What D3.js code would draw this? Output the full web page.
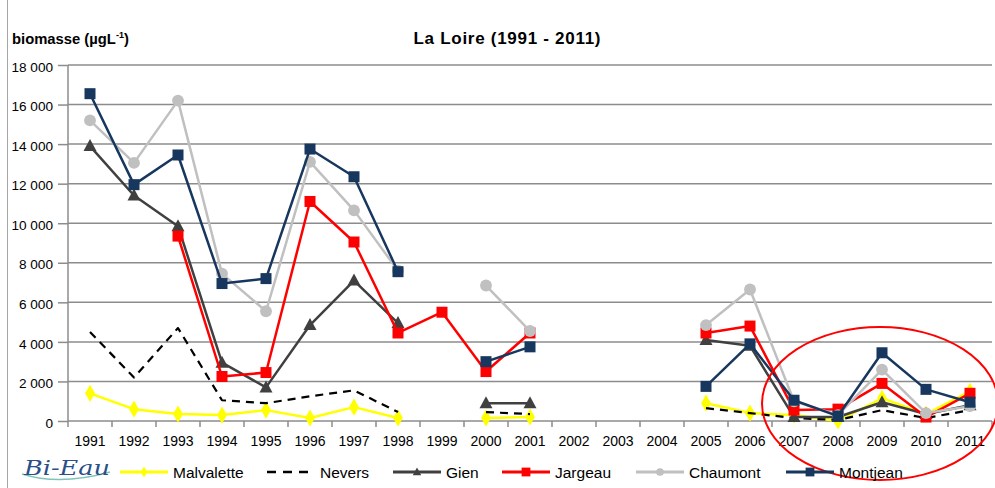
<!DOCTYPE html>
<html><head><meta charset="utf-8">
<script src="https://cdn.jsdelivr.net/npm/d3@7"></script>
<style>body{margin:0;background:#fff}svg{display:block;font-family:"Liberation Sans",Arial,sans-serif}</style>
</head><body><svg id="c" width="995" height="488"></svg>
<script>
const years = d3.range(1991, 2012).map(String);
const yTicks = [0,2000,4000,6000,8000,10000,12000,14000,16000,18000];
const _ = null;
const malvalette = [1400,600,350,300,550,150,700,150,_,150,200,_,_,_,900,400,300,0,1150,350,1500];
const nevers     = [4500,2200,4700,1050,900,1250,1550,450,_,450,350,_,_,_,650,400,150,50,550,150,550];
const gien       = [13900,11400,9850,2950,1700,4850,7100,4950,_,900,900,_,_,_,4100,3800,200,200,950,350,800];
const jargeau    = [_,_,9350,2250,2450,11100,9050,4450,5500,2500,4450,_,_,_,4450,4800,550,600,1900,200,1400];
const chaumont   = [15200,13050,16200,7450,5550,13100,10650,7600,_,6850,4550,_,_,_,4850,6650,1000,300,2600,400,750];
const montjean   = [16550,11950,13450,6950,7200,13750,12350,7550,_,3000,3750,_,_,_,1750,3900,1050,250,3450,1600,950];

const series = [
  {name:"Malvalette", values:malvalette, color:"#ffff00", marker:"diamond", dash:null},
  {name:"Nevers", values:nevers, color:"#000000", marker:null, dash:"8,6"},
  {name:"Gien", values:gien, color:"#404040", marker:"triangle", dash:null},
  {name:"Jargeau", values:jargeau, color:"#ff0000", marker:"square", dash:null},
  {name:"Chaumont", values:chaumont, color:"#c0c0c0", marker:"circle", dash:null},
  {name:"Montjean", values:montjean, color:"#17375e", marker:"square", dash:null}
];

const svg = d3.select("#c");
const L = 68, R = 992, T = 65, B = 421;
const x = d3.scalePoint().domain(years).range([L, R]).padding(0.5);
const xb = d3.scaleBand().domain(years).range([L, R]);
const y = d3.scaleLinear().domain([0, 18000]).range([B, T]);

// frame (left edge)
svg.append("line").attr("x1",7.5).attr("x2",7.5).attr("y1",0).attr("y2",488).attr("stroke","#a6a6a6");

// grid
svg.append("g").selectAll("line").data(yTicks.filter(d=>d>0)).join("line")
  .attr("x1",L).attr("x2",R).attr("y1",d=>y(d)).attr("y2",d=>y(d))
  .attr("stroke","#8c8c8c").attr("stroke-width",1.5);

// y axis
const fmt = v => d3.format(",")(v).replace(/,/g," ");
const ya = svg.append("g").attr("transform",`translate(${L},0)`)
  .call(d3.axisLeft(y).tickValues(yTicks).tickFormat(fmt).tickSize(10).tickPadding(5));
ya.selectAll("path,line").attr("stroke","#8c8c8c").attr("stroke-width",1.5);
ya.select(".domain").attr("d",`M0,${T}V${B}`);
ya.selectAll("text").attr("font-size",13.6).attr("fill","#000").attr("dy","0.45em")
  .attr("font-family","Liberation Sans, Arial, sans-serif");

// x axis
const xa = svg.append("g").attr("transform",`translate(0,${B})`);
xa.append("line").attr("x1",L).attr("x2",R).attr("stroke","#8c8c8c").attr("stroke-width",1.5);
xa.selectAll("line.t").data(years.concat(["end"])).join("line").attr("class","t")
  .attr("x1",d=>d==="end"?R:xb(d)).attr("x2",d=>d==="end"?R:xb(d)).attr("y1",0).attr("y2",6)
  .attr("stroke","#8c8c8c").attr("stroke-width",1.5);
xa.selectAll("text").data(years).join("text").attr("x",d=>x(d)).attr("y",25)
  .attr("text-anchor","middle").attr("font-size",14).text(d=>d);

// lines
const line = d3.line().defined(d=>d.v!==null).x(d=>x(d.year)).y(d=>y(d.v));
function markerPath(type){
  if(type==="diamond") return d3.symbol(d3.symbolDiamond, 85)();
  if(type==="triangle") return "M0,-7L6.5,5L-6.5,5Z";
  if(type==="square") return "M-5.5,-5.5H5.5V5.5H-5.5Z";
  if(type==="circle") return d3.symbol(d3.symbolCircle, 110)();
  return null;
}
series.forEach(s=>{
  const pts = s.values.map((v,i)=>({year:years[i], v}));
  const g = svg.append("g");
  g.append("path").datum(pts).attr("d",line).attr("fill","none").attr("stroke",s.color)
    .attr("stroke-width",s.dash?2.2:2.5).attr("stroke-dasharray",s.dash).attr("stroke-linejoin","round");
  if(s.marker){
    g.selectAll("path.m").data(pts.filter(d=>d.v!==null)).join("path").attr("class","m")
      .attr("transform",d=>`translate(${x(d.year)},${y(d.v)})`).attr("d",markerPath(s.marker)).attr("fill",s.color);
  }
});

// ellipse
svg.append("ellipse").attr("cx",880).attr("cy",403.5).attr("rx",118).attr("ry",76.5)
  .attr("fill","none").attr("stroke","#ff0000").attr("stroke-width",2);

// titles
svg.append("text").attr("x",507).attr("y",44).attr("text-anchor","middle").attr("font-size",17)
  .attr("font-weight","bold").attr("textLength",187).attr("lengthAdjust","spacing").text("La Loire (1991 - 2011)");
const yt = svg.append("text").attr("x",12).attr("y",44).attr("font-size",14.8).attr("font-weight","bold");
yt.append("tspan").text("biomasse (µgL");
yt.append("tspan").attr("font-size",9).attr("dy",-6).text("-1");
yt.append("tspan").attr("dy",6).text(")");

// logo
svg.append("path").attr("d","M22,474 Q60,486 110,472").attr("fill","none").attr("stroke","#7fc4b8").attr("stroke-width",1.5);
svg.append("text").attr("x",24).attr("y",475).attr("font-size",20).attr("font-style","italic").attr("fill","#2b4f86")
  .attr("font-family","DejaVu Serif, serif").attr("textLength",86).attr("lengthAdjust","spacingAndGlyphs").text("Bi-Eau");

// legend
const legX = [120,267,393,502,636,786];
const lg = svg.append("g");
series.forEach((s,i)=>{
  const g = lg.append("g").attr("transform",`translate(${legX[i]},472)`);
  g.append("line").attr("x1",0).attr("x2",48).attr("stroke",s.color).attr("stroke-width",s.dash?2.4:2.8).attr("stroke-dasharray",s.dash?"9,7":null);
  if(s.marker){
    const sc = s.marker==="square"?0.8:0.65;
    g.append("path").attr("transform",`translate(24,0) scale(${sc})`).attr("d",markerPath(s.marker)).attr("fill",s.color);
  }
  g.append("text").attr("x",53).attr("y",5.5).attr("font-size",15.5).text(s.name);
});
</script></body></html>
